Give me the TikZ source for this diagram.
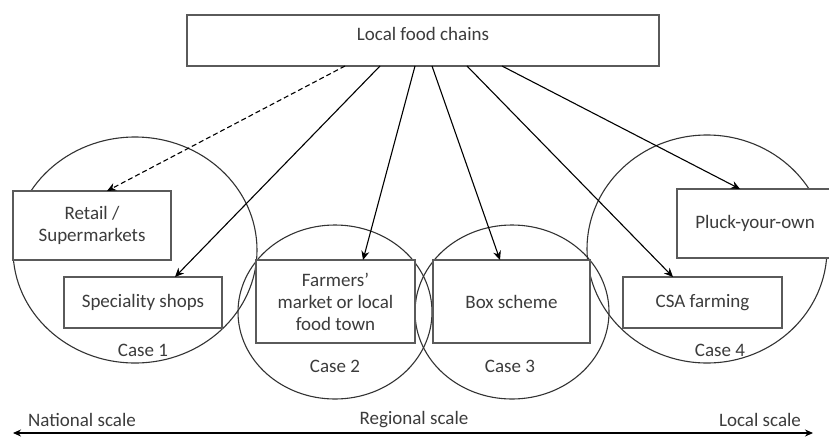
\documentclass[tikz,border=0pt]{standalone}
\usepackage{fontspec}
\setmainfont{Carlito}
\usetikzlibrary{arrows.meta,shapes.geometric}
\definecolor{txt}{HTML}{3C3C3C}
\definecolor{edge}{HTML}{5A5A5A}
\tikzset{
  box/.style={draw=edge,line width=1.8pt,fill=white,inner sep=0pt,outer sep=0pt,
    align=center,text=txt},
  case/.style={ellipse,draw=black!80,line width=1.1pt,inner sep=0pt,outer sep=0pt},
  lbl/.style={text=txt,inner sep=0pt},
  link/.style={line width=1.1pt,-{Stealth[length=9pt,width=8pt]}}
}
\begin{document}
\begin{tikzpicture}[x=1pt,y=-1pt,font=\fontsize{19}{22}\selectfont]
\useasboundingbox (0,0) rectangle (829,437);
\clip (0,0) rectangle (829,437);
\fill[white] (0,0) rectangle (829,437);
% cases
\node[case,minimum width=244,minimum height=226] (c1) at (135,250) {};
\node[case,minimum width=194,minimum height=174] (c2) at (335,312) {};
\node[case,minimum width=194,minimum height=174] (c3) at (512,312) {};
\node[case,minimum width=240,minimum height=228] (c4) at (707,249) {};
% boxes
\node[box,minimum width=472,minimum height=51,text height=13pt,text depth=14pt] (lfc) at (423,40.5) {Local food chains};
\node[box,minimum width=158,minimum height=69] (retail) at (92,225.5) {Retail /\\Supermarkets};
\node[box,minimum width=158,minimum height=51] (spec) at (143,302.5) {Speciality shops};
\node[box,minimum width=159,minimum height=83] (farm) at (335.5,301.5) {Farmers'\\market or local\\food town};
\node[box,minimum width=157,minimum height=83] (boxs) at (511.5,301.5) {Box scheme};
\node[box,minimum width=159,minimum height=51] (csa) at (702.5,302.5) {CSA farming};
\node[box,minimum width=156,minimum height=69] (pluck) at (755,223.5) {Pluck-your-own};
\path
(143,350) node[lbl] (l1) {Case 1}
(335,366) node[lbl] (l2) {Case 2}
(510,366) node[lbl] (l3) {Case 3}
(720,350) node[lbl] (l4) {Case 4}
;
% links
\draw[link,dash pattern=on 5pt off 3pt] ([xshift=-78pt]lfc.south) -- ([xshift=15pt]retail.north);
\draw[link] ([xshift=-43pt]lfc.south) -- ([xshift=32pt]spec.north);
\draw[link] ([xshift=-8pt]lfc.south) -- ([xshift=27.5pt]farm.north);
\draw[link] ([xshift=9pt]lfc.south) -- ([xshift=-11.5pt]boxs.north);
\draw[link] ([xshift=44pt]lfc.south) -- ([xshift=-29.5pt]csa.north);
\draw[link] ([xshift=79pt]lfc.south) -- ([xshift=-15pt]pluck.north);
% scale
\coordinate (nat) at (13,433);
\coordinate (loc) at (813,433);
\draw[line width=1.2pt,{Stealth[length=8pt,width=7pt]}-{Stealth[length=8pt,width=7pt]}] (nat) -- (loc);
\path
(82,420) node[lbl] (ns) {National scale}
(414,420) node[lbl] (rs) {Regional scale}
(760,420) node[lbl] (ls) {Local scale}
;
\end{tikzpicture}
\end{document}
